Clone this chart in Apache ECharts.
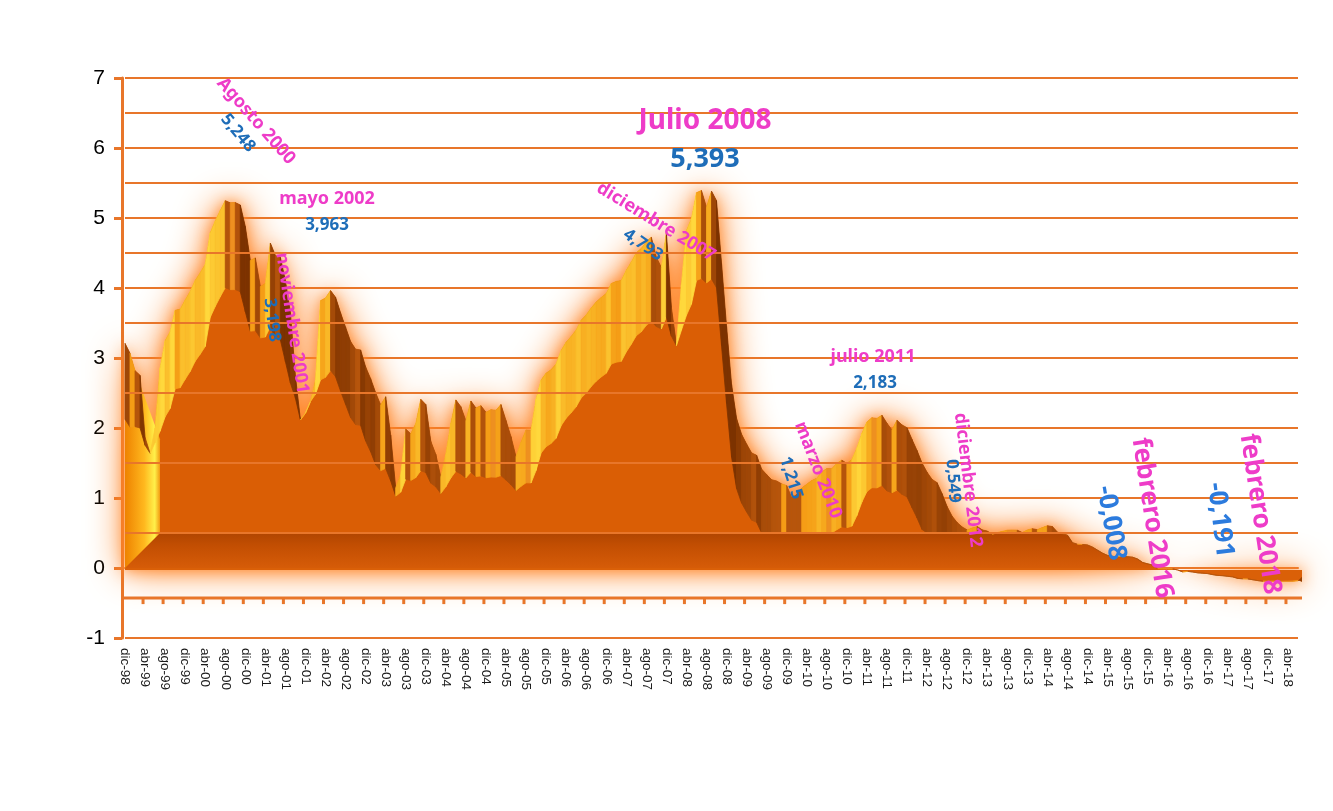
<!DOCTYPE html>
<html><head><meta charset="utf-8">
<script src="https://cdn.jsdelivr.net/npm/echarts@6/dist/echarts.min.js"></script>
<style>html,body{margin:0;padding:0;background:#fff}#c{width:1333px;height:811px}</style>
</head><body><div id="c"></div>
<script>
// ---- data (12-month Euribor, monthly) ----
const monthNames = ['ene','feb','mar','abr','may','jun','jul','ago','sep','oct','nov','dic'];
const firstYear = 1998, firstMonth = 11; // dic-98
const v1998 = [3.209];
const v1999 = [3.086, 3.094, 3.074, 2.806, 2.681, 2.847, 3.024, 3.246, 3.376, 3.681, 3.698, 3.828];
const v2000 = [3.949, 4.108, 4.218, 4.337, 4.788, 4.958, 5.108, 5.248, 5.219, 5.220, 5.186, 4.878];
const v2001 = [4.574, 4.584, 4.471, 4.483, 4.642, 4.465, 4.436, 4.103, 3.770, 3.535, 3.198, 3.303];
const v2002 = [3.484, 3.596, 3.819, 3.858, 3.963, 3.868, 3.645, 3.440, 3.236, 3.126, 3.115, 2.872];
const v2003 = [2.705, 2.504, 2.411, 2.447, 2.252, 2.014, 2.076, 2.279, 2.258, 2.303, 2.410, 2.381];
const v2004 = [2.218, 2.160, 2.057, 2.160, 2.298, 2.401, 2.361, 2.299, 2.386, 2.320, 2.330, 2.301];
const v2005 = [2.312, 2.310, 2.335, 2.265, 2.193, 2.103, 2.168, 2.223, 2.220, 2.414, 2.684, 2.783];
const v2006 = [2.833, 2.914, 3.108, 3.224, 3.308, 3.401, 3.539, 3.615, 3.715, 3.799, 3.864, 3.921];
const v2007 = [4.064, 4.094, 4.106, 4.253, 4.373, 4.505, 4.564, 4.666, 4.725, 4.647, 4.607, 4.793];
const v2008 = [4.498, 4.349, 4.590, 4.820, 4.994, 5.361, 5.393, 5.323, 5.384, 5.248, 4.350, 3.452];
const v2009 = [2.622, 2.135, 1.909, 1.771, 1.644, 1.610, 1.412, 1.334, 1.261, 1.243, 1.231, 1.242];
const v2010 = [1.232, 1.225, 1.215, 1.225, 1.249, 1.281, 1.373, 1.421, 1.420, 1.495, 1.541, 1.526];
const v2011 = [1.550, 1.714, 1.924, 2.086, 2.147, 2.144, 2.183, 2.097, 2.067, 2.110, 2.044, 2.004];
const v2012 = [1.837, 1.678, 1.499, 1.368, 1.266, 1.219, 1.061, 0.877, 0.740, 0.650, 0.588, 0.549];
const v2013 = [0.575, 0.594, 0.545, 0.528, 0.484, 0.507, 0.525, 0.542, 0.543, 0.541, 0.506, 0.543];
const v2014 = [0.562, 0.549, 0.577, 0.604, 0.592, 0.513, 0.488, 0.469, 0.362, 0.338, 0.335, 0.329];
const v2015 = [0.298, 0.255, 0.212, 0.180, 0.165, 0.163, 0.167, 0.161, 0.154, 0.128, 0.079, 0.059];
const v2016 = [0.042, -0.008, -0.012, -0.010, -0.013, -0.028, -0.056, -0.048, -0.057, -0.069, -0.074, -0.080];
const v2017 = [-0.095, -0.106, -0.110, -0.119, -0.127, -0.149, -0.154, -0.156, -0.168, -0.180, -0.189, -0.190];
const v2018 = [-0.189, -0.191, -0.191, -0.190, -0.188, -0.181];

const values = [].concat(v1998, v1999, v2000, v2001, v2002, v2003, v2004, v2005, v2006, v2007,
  v2008, v2009, v2010, v2011, v2012, v2013, v2014, v2015, v2016, v2017, v2018);
const categories = values.map(function (_, i) {
  const m = (firstMonth + i) % 12;
  const y = firstYear + Math.floor((firstMonth + i) / 12);
  return monthNames[m] + '-' + String(y).slice(2);
});
const yMin = -1, yMax = 7, yStep = 1;
const halfGridLines = [0.5, 1.5, 2.5, 3.5, 4.5, 5.5, 6.5];

// annotation texts
const notes = [
  { text: 'Agosto 2000', color: '#EE3CC8', size: 18, x: 256, y: 121, rot: -0.85 },
  { text: '5,248', color: '#1E6DB8', size: 17, x: 238, y: 133, rot: -0.88 },
  { text: 'mayo 2002', color: '#EE3CC8', size: 18, x: 327, y: 199, rot: 0 },
  { text: '3,963', color: '#1E6DB8', size: 17, x: 327, y: 225, rot: 0 },
  { text: 'noviembre 2001', color: '#EE3CC8', size: 18, x: 292, y: 323, rot: -1.42 },
  { text: '3,198', color: '#1E6DB8', size: 17, x: 272, y: 320, rot: -1.45 },
  { text: 'diciembre 2007', color: '#EE3CC8', size: 18, x: 656, y: 222, rot: -0.55 },
  { text: '4,793', color: '#1E6DB8', size: 17, x: 643, y: 245, rot: -0.6 },
  { text: 'Julio 2008', color: '#EE3CC8', size: 28, x: 705, y: 121, rot: 0 },
  { text: '5,393', color: '#1E6DB8', size: 27, x: 705, y: 159, rot: 0 },
  { text: 'marzo 2010', color: '#EE3CC8', size: 18, x: 818, y: 470, rot: -1.2 },
  { text: '1,215', color: '#1E6DB8', size: 17, x: 791, y: 478, rot: -1.27 },
  { text: 'julio 2011', color: '#EE3CC8', size: 18, x: 873, y: 357, rot: 0 },
  { text: '2,183', color: '#1E6DB8', size: 17, x: 875, y: 383, rot: 0 },
  { text: 'diciembre 2012', color: '#EE3CC8', size: 18, x: 968, y: 480, rot: -1.45 },
  { text: '0,549', color: '#1E6DB8', size: 17, x: 953, y: 481, rot: -1.5 },
  { text: '-0,008', color: '#2C7BDD', size: 26, x: 1111, y: 523, rot: -1.4 },
  { text: 'febrero 2016', color: '#EE3CC8', size: 26, x: 1152, y: 518, rot: -1.42 },
  { text: '-0,191', color: '#2C7BDD', size: 26, x: 1220, y: 520, rot: -1.45 },
  { text: 'febrero 2018', color: '#EE3CC8', size: 26, x: 1260, y: 514, rot: -1.42 }
];

const ORANGE = '#E8762A';
const LG = echarts.graphic.LinearGradient;

function hex(c) { return [parseInt(c.substr(1, 2), 16), parseInt(c.substr(3, 2), 16), parseInt(c.substr(5, 2), 16)]; }
function mix(a, b, t) {
  const p = hex(a), q = hex(b);
  return 'rgb(' + p.map(function (x, i) { return Math.round(x + (q[i] - x) * t); }).join(',') + ')';
}

function renderMountain(params, api) {
  if (params.dataIndexInside !== 0) return null;
  const n = params.dataInsideLength;
  const A = [], V = [];
  for (let j = 0; j < n; j++) {
    const v = api.value(1, j);
    V.push(v);
    A.push(api.coord([api.value(0, j), v]));
  }
  const y0 = api.coord([0, 0])[1];
  const unit = y0 - api.coord([0, 1])[1];
  const x0 = A[0][0], xn = A[n - 1][0];
  const step = (xn - x0) / (n - 1);
  const depth = 0.5 * unit;
  const floorTop = y0 - depth;
  // lower (front) edge of the 3-D ribbon
  const F = A.map(function (p, j) {
    let yf;
    if (p[1] >= floorTop) yf = p[1];
    else yf = Math.min(p[1] + 0.83 * unit + 0.079 * V[j] * unit, floorTop);
    return [p[0], yf];
  });
  // visible ridge: sharp valleys reveal the front edge (perspective look)
  const R = A.map(function (p, j) {
    let ml = V[j], mr = V[j];
    for (let q = Math.max(0, j - 6); q <= j; q++) ml = Math.max(ml, V[q]);
    for (let q = j; q <= Math.min(n - 1, j + 6); q++) mr = Math.max(mr, V[q]);
    const d = Math.max(0, Math.min(1, (Math.min(ml, mr) - V[j]) / 0.45));
    return [p[0], p[1] + d * (F[j][1] - p[1])];
  });
  const ch = [];
  // glow silhouette
  const outline = R.map(function (p) { return [p[0], p[1]]; });
  outline.push([xn + 4, R[n - 1][1]], [xn + 4, y0 + 2], [x0, y0 + 2]);
  ch.push({ type: 'polygon', shape: { points: outline },
    style: { fill: '#DA6008', shadowBlur: 36, shadowColor: 'rgba(255,128,30,1)' } });
  ch.push({ type: 'polygon', shape: { points: outline },
    style: { fill: '#DA6008', shadowBlur: 14, shadowColor: 'rgba(255,140,50,0.9)' } });
  // floor front line with ticks
  const yFloorLine = y0 + 0.43 * unit;
  ch.push({ type: 'line', shape: { x1: x0 - 3, y1: yFloorLine, x2: xn + 4, y2: yFloorLine },
    style: { stroke: ORANGE, lineWidth: 3 } });
  for (let j = 0; j < n - 3; j += 4) {
    const tx = A[j][0] + 3.6 * step;
    ch.push({ type: 'rect', shape: { x: tx - 1.5, y: yFloorLine, width: 3, height: 6 },
      style: { fill: ORANGE } });
  }
  // floor band (top of the base)
  const band = [[x0, y0], [x0 + depth, floorTop]];
  for (let j = 0; j < n; j++) {
    if (A[j][0] >= x0 + depth) band.push([A[j][0], Math.min(Math.max(floorTop, A[j][1]), y0)]);
  }
  band.push([xn + 4, Math.min(Math.max(floorTop, A[n - 1][1]), y0)], [xn + 4, y0]);
  ch.push({ type: 'polygon', shape: { points: band },
    style: { fill: new LG(0, 0, 0, 1, [{ offset: 0, color: '#B04500' }, { offset: 0.35, color: '#C24E02' }, { offset: 1, color: '#D65C08' }]) } });
  // front flat face
  const face = F.map(function (p) { return [p[0], Math.min(p[1], floorTop)]; });
  face.push([xn + 4, Math.min(F[n - 1][1], floorTop)], [xn + 4, floorTop], [x0, floorTop]);
  ch.push({ type: 'polygon', shape: { points: face }, style: { fill: '#DA5E05' } });
  // left side face
  const k = Math.round(depth / step);
  ch.push({ type: 'polygon',
    shape: { points: [[x0, R[0][1]], [x0 + depth, F[k][1] + 8], [x0 + depth, floorTop], [x0, y0]] },
    style: { fill: new LG(0, 0, 1, 0, [{ offset: 0, color: '#EE8200' }, { offset: 0.55, color: '#FFB81E' }, { offset: 0.85, color: '#FFF04A' }, { offset: 1, color: '#F29A10' }]) } });
  // top ridge surfaces, shaded by slope
  for (let j = 0; j < n - 1; j++) {
    const dv = V[j + 1] - V[j];
    const pts = [R[j], R[j + 1], F[j + 1], F[j]];
    let fill;
    if (dv > 0.004) fill = mix('#F49A14', '#FFD83C', Math.min(1, dv / 0.22));
    else if (dv < -0.004) fill = mix('#B8560C', '#7C3200', Math.min(1, -dv / 0.3));
    else fill = '#EE9020';
    ch.push({ type: 'polygon', shape: { points: pts }, style: { fill: fill, stroke: fill, lineWidth: 0.8 } });
  }
  // right end side
  ch.push({ type: 'polygon',
    shape: { points: [[xn, A[n - 1][1]], [xn + 4, A[n - 1][1] - 4], [xn + 4, y0 + 14], [xn, y0 + 12]] },
    style: { fill: '#9A4000' } });
  return { type: 'group', children: ch };
}

const chart = echarts.init(document.getElementById('c'), null, { renderer: 'canvas' });
chart.setOption({
  backgroundColor: '#ffffff',
  animation: false,
  grid: { left: 125, right: 35, top: 78, bottom: 173, containLabel: false },
  xAxis: {
    type: 'category', data: categories, boundaryGap: false,
    axisLine: { show: true, lineStyle: { color: ORANGE, width: 2 } },
    axisTick: { show: false },
    splitLine: { show: false },
    axisLabel: { interval: 3, rotate: -90, margin: 10, color: '#1a1a1a', fontSize: 13.5, fontFamily: 'Liberation Sans, Arial, sans-serif' }
  },
  yAxis: {
    type: 'value', min: yMin, max: yMax, interval: yStep, offset: 3,
    axisLine: { show: true, lineStyle: { color: ORANGE, width: 3 } },
    axisTick: { show: true, length: 8, lineStyle: { color: ORANGE, width: 3 } },
    axisLabel: { margin: 17, color: '#000', fontSize: 21, fontFamily: 'Liberation Sans, Arial, sans-serif' },
    splitLine: { show: true, lineStyle: { color: ORANGE, width: 2 } }
  },
  series: [
    {
      type: 'line', data: [], z: 1, silent: true,
      markLine: {
        silent: true, symbol: ['none', 'none'], label: { show: false },
        lineStyle: { color: ORANGE, width: 2, type: 'solid' },
        data: halfGridLines.map(function (v) { return { yAxis: v }; })
      }
    },
    {
      type: 'custom', z: 3, clip: false,
      renderItem: renderMountain,
      encode: { x: 0, y: 1 },
      data: values.map(function (v, i) { return [i, v]; })
    }
  ],
  graphic: notes.map(function (a) {
    return {
      type: 'text', x: a.x, y: a.y, rotation: a.rot, z: 100,
      style: {
        text: a.text, fill: a.color,
        font: 'bold ' + a.size + 'px "Noto Sans", "Open Sans", sans-serif',
        align: 'center', verticalAlign: 'middle', textAlign: 'center', textVerticalAlign: 'middle'
      }
    };
  })
});
</script>
</body></html>
